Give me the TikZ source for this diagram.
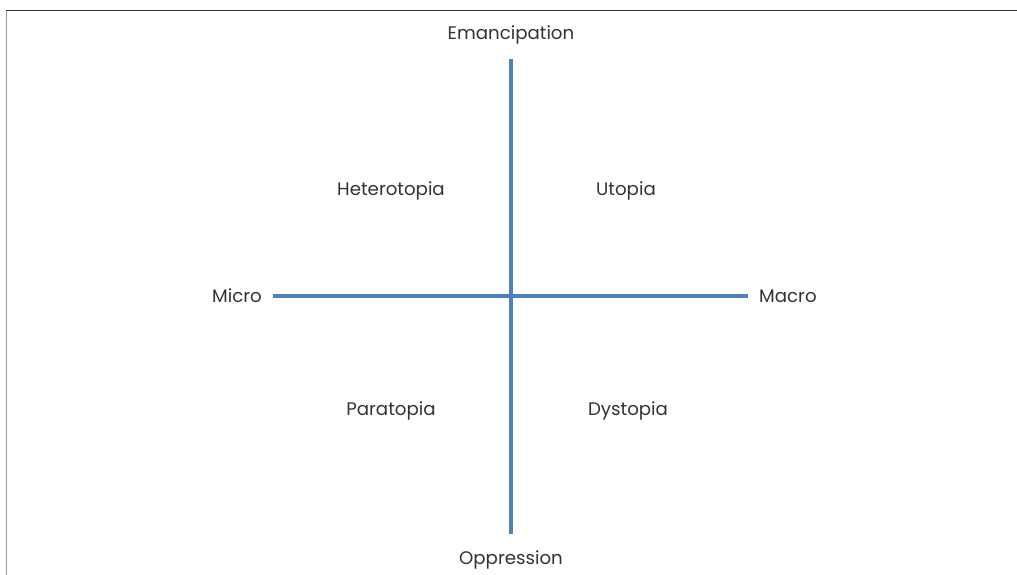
\documentclass[tikz,border=0pt]{standalone}
\usepackage{fontspec}
\setmainfont{Poppins}
\definecolor{axisblue}{HTML}{4F81BD}
\definecolor{labelgray}{HTML}{333333}
\begin{document}
\begin{tikzpicture}[x=1pt,y=-1pt,
  axis/.style={draw=axisblue,line width=3.2pt},
  lbl/.style={text=labelgray,font=\fontsize{18.2}{22}\selectfont,inner sep=0pt,anchor=base}]
\useasboundingbox (0,0) rectangle (1017,575);
% frame lines
\draw[draw=gray!80,line width=1.4pt] (6.5,10) -- (6.5,575);
\draw[draw=black!80,line width=1.4pt] (5.8,10.5) -- (1017,10.5);
% axes
\coordinate (top) at (511,59);
\coordinate (bot) at (511,534);
\coordinate (left) at (273,296);
\coordinate (right) at (748,296);
\draw[axis] (top) -- (bot);
\draw[axis] (left) -- (right);
% axis labels
\node[lbl] (eman) at (511,40) {Emancipation};
\node[lbl] (opp) at (511,564) {Oppression};
\node[lbl,anchor=base east] (micro) at (262,302) {Micro};
\node[lbl,anchor=base west] (macro) at (759,302) {Macro};
% quadrant labels
\node[lbl] (hetero) at (391,195.7) {Heterotopia};
\node[lbl] (utopia) at (626,195.7) {Utopia};
\node[lbl] (para) at (391,415.7) {Paratopia};
\node[lbl] (dys) at (628,415.7) {Dystopia};
\end{tikzpicture}
\end{document}
